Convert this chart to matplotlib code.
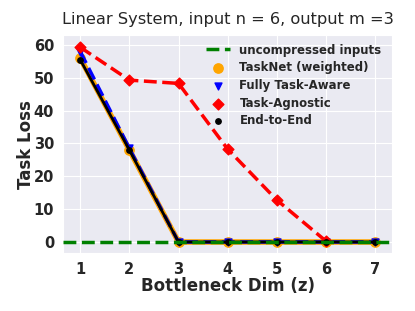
import numpy as np
import matplotlib
matplotlib.use('Agg')
import matplotlib.pyplot as plt
import seaborn as sns

sns.set_style('darkgrid')
plt.rcParams['font.family'] = ['DejaVu Sans']

# bottleneck dims and task losses
z = [1, 2, 3, 4, 5, 6, 7]
tasknet = [56.0, 28.0, 0.0, 0.0, 0.0, 0.0, 0.0]
task_aware = [58.0, 28.5, 0.0, 0.0, 0.0, 0.0, 0.0]
z_agnostic = [1, 2, 3, 4, 5, 6]
task_agnostic = [59.3, 49.3, 48.3, 28.3, 12.8, 0.3]
end_to_end = [55.5, 28.0, 0.0, 0.0, 0.0, 0.0, 0.0]
baseline = 0.0

fig, ax = plt.subplots(figsize=(4.15, 3.11), dpi=100)

ax.plot(z, tasknet, color='orange', lw=4, zorder=2)
ax.scatter(z, tasknet, color='orange', marker='o', s=45, label='TaskNet (weighted)', zorder=3)
ax.plot(z, task_aware, color='blue', lw=2.5, ls='--', zorder=3)
ax.scatter(z, task_aware, color='blue', marker='v', s=25, label='Fully Task-Aware', zorder=3)
ax.plot(z_agnostic, task_agnostic, color='red', lw=2.5, ls='--', zorder=3)
ax.scatter(z_agnostic, task_agnostic, color='red', marker='D', s=30, label='Task-Agnostic', zorder=3)
ax.plot(z, end_to_end, color='black', lw=2, zorder=4)
ax.scatter(z, end_to_end, color='black', marker='o', s=15, label='End-to-End', zorder=4)
ax.axhline(baseline, color='green', lw=2.5, ls='--', label='uncompressed inputs', zorder=5)

ax.set_xticks(z)
ax.set_yticks([0, 10, 20, 30, 40, 50, 60])
ax.set_xlim(0.65, 7.35)
ax.set_ylim(-3.4, 63)
ax.tick_params(pad=3)
for lab in ax.get_xticklabels() + ax.get_yticklabels():
    lab.set_fontweight('bold')
    lab.set_fontsize(10.5)
ax.set_xlabel('Bottleneck Dim (z)', fontsize=12, fontweight='bold', labelpad=0)
ax.set_ylabel('Task Loss', fontsize=12, fontweight='bold', labelpad=-1)
ax.set_title('Linear System, input n = 6, output m =3', fontsize=11.7, pad=8)

h, l = ax.get_legend_handles_labels()
order = [4, 0, 1, 2, 3]
ax.legend([h[i] for i in order], [l[i] for i in order], frameon=False,
          prop={'weight': 'bold', 'size': 8.5}, loc='upper right', labelspacing=0.4,
          bbox_to_anchor=(1.0, 1.01))

fig.subplots_adjust(left=0.152, right=0.945, top=0.887, bottom=0.186)
fig.savefig('out.png', dpi=100)
